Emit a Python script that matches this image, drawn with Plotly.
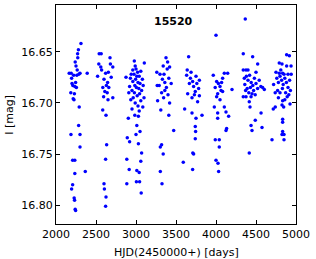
import plotly.graph_objects as go

# Season-wise photometry (HJD-2450000, I mag)
t1 = [2312,2280,2270,2272,2240,2250,2165,2190,2300,2390,2220,2260,2285,2200,2245,2235,2255,2185,2230,2215,2225,2290,2283,2210,2265,2195,
      2187,2300,2300,2208,2235,2366,2235,2208,2195,2227,2232,2240,2245]
m1 = [16.642,16.648,16.652,16.656,16.660,16.664,16.671,16.671,16.671,16.671,16.673,16.673,16.672,16.681,16.680,16.684,16.685,16.690,16.691,16.696,16.697,16.704,16.722,16.683,16.668,16.676,
      16.731,16.731,16.743,16.756,16.756,16.767,16.769,16.780,16.784,16.793,16.795,16.804,16.805]

t2 = [2540,2565,2535,2675,2680,2710,2560,2620,2655,2520,2600,2645,2585,2660,2610,2640,2595,2710,2650,2584,2625,2633,2620,2600,2605,2625,2620,2690,2570,2630]
m2 = [16.652,16.652,16.662,16.656,16.662,16.665,16.665,16.671,16.670,16.674,16.677,16.680,16.685,16.685,16.689,16.690,16.694,16.695,16.697,16.707,16.712,16.741,16.755,16.779,16.784,16.792,16.801,16.675,16.668,16.683]

t3 = [2979,3104,2990,3000,2960,3060,3020,2940,2975,3010,3040,2875,2930,2995,3080,2960,3025,3050,2985,3090,2920,3005,3035,2950,3070,2910,2980,3045,3015,2965,3100,2935,3060,2990,3025,2950,3040,3085,2904,2985,3030,3010,2891,3050,3000,2920,3030,3070,2885,3060,2915,3010,3040,3005,3045,2885,3065]
m3 = [16.659,16.661,16.664,16.667,16.668,16.669,16.670,16.672,16.672,16.674,16.674,16.675,16.676,16.677,16.677,16.679,16.680,16.681,16.683,16.683,16.684,16.685,16.686,16.688,16.688,16.690,16.690,16.691,16.693,16.695,16.695,16.697,16.698,16.700,16.703,16.706,16.708,16.704,16.715,16.712,16.713,16.722,16.734,16.728,16.731,16.738,16.740,16.749,16.755,16.757,16.765,16.766,16.768,16.777,16.777,16.779,16.788]

t4 = [3375,3340,3390,3420,3300,3260,3330,3410,3360,3290,3380,3440,3320,3400,3345,3270,3420,3360,3310,3410,3471,3304,3320,3340,3304,3325,3265,3395,3350]
m4 = [16.656,16.664,16.667,16.665,16.672,16.670,16.677,16.676,16.680,16.683,16.685,16.681,16.690,16.692,16.695,16.698,16.700,16.688,16.707,16.712,16.727,16.743,16.741,16.750,16.767,16.779,16.683,16.660,16.672]

t5 = [3658,3633,3688,3750,3708,3667,3792,3783,3741,3646,3792,3700,3770,3608,3700,3750,3825,3741,3741,3591,3710,3720,3708,3745,3720,3680,3760,3640,3730]
m5 = [16.655,16.673,16.670,16.674,16.679,16.681,16.678,16.686,16.689,16.691,16.693,16.695,16.699,16.706,16.710,16.715,16.712,16.723,16.735,16.758,16.749,16.750,16.765,16.728,16.684,16.676,16.681,16.668,16.692]

t6 = [3966,4008,4050,4104,4146,4083,4063,4021,4083,4008,4050,3979,4104,4021,4125,4158,4021,4000,4200,4133,3991,4041,4041,4000,4025,4033,4125,4030,4070,3990]
m6 = [16.673,16.679,16.684,16.671,16.671,16.676,16.688,16.691,16.689,16.694,16.697,16.704,16.704,16.710,16.709,16.713,16.715,16.634,16.687,16.725,16.736,16.736,16.743,16.756,16.759,16.767,16.727,16.681,16.680,16.685]

t7 = [4366,4341,4458,4521,4341,4375,4500,4354,4583,4604,4438,4375,4416,4425,4341,4563,4438,4575,4491,4450,4416,
      4380,4400,4420,4440,4460,4480,4500,4520,4360,4390,4410,4470,4540,4560,4400,4430,4450,4490,4370]
m7 = [16.618,16.652,16.655,16.662,16.668,16.668,16.670,16.676,16.685,16.687,16.694,16.694,16.699,16.704,16.694,16.710,16.722,16.724,16.717,16.727,16.749,
      16.674,16.678,16.673,16.680,16.683,16.676,16.681,16.686,16.682,16.686,16.690,16.688,16.678,16.684,16.668,16.685,16.691,16.692,16.688]

t8 = [4883,4917,4791,4825,4883,4938,4750,4791,4833,4716,4741,4833,4825,4846,4925,4833,4833,4833,4825,4850,4850,4700,
      4760,4780,4800,4820,4840,4860,4880,4900,4920,4940,4770,4800,4830,4870,4910,4720,4740,4810,4850,4890,4930,4780,4860,4900]
m8 = [16.653,16.654,16.661,16.662,16.664,16.664,16.670,16.671,16.671,16.706,16.704,16.698,16.702,16.704,16.701,16.716,16.719,16.728,16.731,16.731,16.736,16.736,
      16.676,16.680,16.674,16.678,16.682,16.676,16.680,16.685,16.678,16.672,16.688,16.690,16.686,16.690,16.692,16.682,16.690,16.668,16.672,16.694,16.688,16.695,16.697,16.672]

hjd = t1 + t2 + t3 + t4 + t5 + t6 + t7 + t8
mag = m1 + m2 + m3 + m4 + m5 + m6 + m7 + m8

x_ticks = [2000, 2500, 3000, 3500, 4000, 4500, 5000]
y_ticks = [16.65, 16.70, 16.75, 16.80]
y_tick_labels = ["16.65", "16.70", "16.75", "16.80"]
star_id = "15520"
x_title = "HJD(2450000+) [days]"
y_title = "I [mag]"

font = dict(family="DejaVu Sans", size=11, color="black")

fig = go.Figure()
fig.add_trace(go.Scatter(x=hjd, y=mag, mode="markers",
                         marker=dict(color="#0000ff", size=3.5, line=dict(width=0)),
                         showlegend=False))

axis_common = dict(showline=True, linecolor="black", linewidth=1, mirror="allticks",
                   ticks="inside", ticklen=4, tickcolor="black", showgrid=False,
                   zeroline=False, tickfont=font, automargin=False)

fig.update_xaxes(range=[2000, 5000], tickvals=x_ticks, **axis_common)
fig.update_yaxes(range=[16.8183, 16.6044], tickvals=y_ticks, ticktext=y_tick_labels, **axis_common)

fig.add_annotation(text="<b>" + star_id + "</b>", xref="paper", yref="paper",
                   x=0.49, y=0.925, xanchor="center", yanchor="middle",
                   showarrow=False, font=font)
fig.add_annotation(text=x_title, xref="paper", yref="paper", x=0.5, y=-0.093,
                   xanchor="center", yanchor="top", showarrow=False, font=font)
fig.add_annotation(text=y_title, xref="paper", yref="paper", x=-0.195, y=0.5,
                   xanchor="center", yanchor="middle", textangle=-90, showarrow=False, font=font)

fig.update_layout(width=316, height=259, margin=dict(l=56, r=20, t=5, b=35),
                  paper_bgcolor="white", plot_bgcolor="white")

fig.write_html("out.html", config={"displayModeBar": False},
               post_script="document.body.style.margin='0';document.body.style.overflow='hidden';")
